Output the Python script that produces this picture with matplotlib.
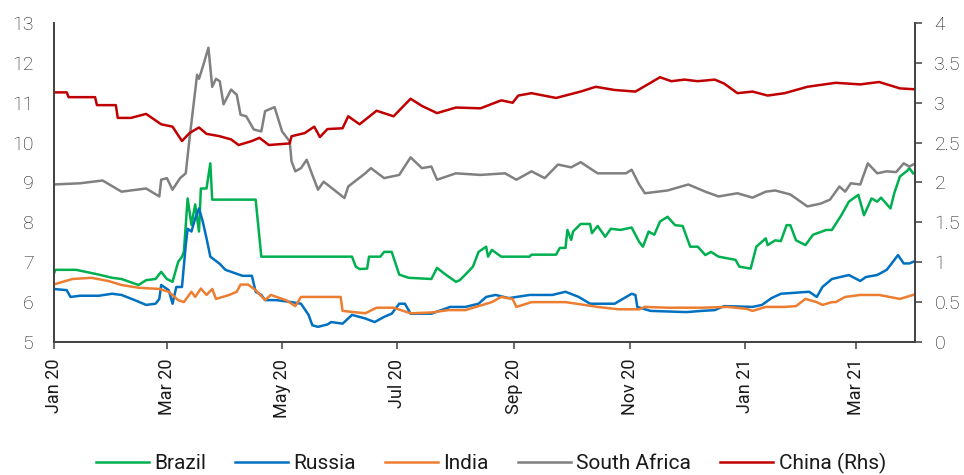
import matplotlib
matplotlib.use('Agg')
import matplotlib.pyplot as plt
import matplotlib.dates as mdates
import pandas as pd

# --- data ---
brazil_dates = [
    '2020-01-01', '2020-01-02', '2020-01-13', '2020-01-18', '2020-01-25', '2020-02-01', '2020-02-06',
    '2020-02-15', '2020-02-19', '2020-02-24', '2020-02-27', '2020-03-01', '2020-03-04', '2020-03-07',
    '2020-03-09', '2020-03-10', '2020-03-12', '2020-03-14', '2020-03-16', '2020-03-18', '2020-03-19',
    '2020-03-22', '2020-03-24', '2020-03-25', '2020-04-17', '2020-04-20', '2020-06-07', '2020-06-09',
    '2020-06-11', '2020-06-15', '2020-06-16', '2020-06-22', '2020-06-24', '2020-06-28', '2020-07-02',
    '2020-07-07', '2020-07-19', '2020-07-22', '2020-07-26', '2020-08-01', '2020-08-03', '2020-08-06',
    '2020-08-10', '2020-08-13', '2020-08-17', '2020-08-18', '2020-08-20', '2020-08-25', '2020-09-09',
    '2020-09-10', '2020-09-23', '2020-09-25', '2020-09-28', '2020-09-29', '2020-10-01', '2020-10-02',
    '2020-10-06', '2020-10-11', '2020-10-12', '2020-10-15', '2020-10-19', '2020-10-22', '2020-10-27',
    '2020-11-02', '2020-11-06', '2020-11-08', '2020-11-11', '2020-11-14', '2020-11-17', '2020-11-21',
    '2020-11-25', '2020-11-29', '2020-12-03', '2020-12-07', '2020-12-11', '2020-12-14', '2020-12-18',
    '2020-12-27', '2020-12-29', '2021-01-04', '2021-01-07', '2021-01-12', '2021-01-13', '2021-01-17',
    '2021-01-20', '2021-01-23', '2021-01-25', '2021-01-28', '2021-02-02', '2021-02-06', '2021-02-13',
    '2021-02-16', '2021-02-21', '2021-02-25', '2021-03-02', '2021-03-05', '2021-03-09', '2021-03-12',
    '2021-03-14', '2021-03-19', '2021-03-21', '2021-03-24', '2021-03-28', '2021-03-29', '2021-03-31']
brazil = [
    6.69, 6.81, 6.81, 6.76, 6.69, 6.61, 6.58, 6.43, 6.55, 6.58, 6.76, 6.58, 6.51, 7.01,
    7.14, 7.26, 8.60, 7.94, 8.45, 7.77, 8.85, 8.85, 9.48, 8.57, 8.57, 7.14, 7.14, 6.89,
    6.83, 6.84, 7.14, 7.14, 7.26, 7.26, 6.69, 6.61, 6.58, 6.86, 6.71, 6.51, 6.55, 6.69,
    6.89, 7.26, 7.39, 7.14, 7.31, 7.14, 7.14, 7.19, 7.19, 7.36, 7.36, 7.81, 7.56, 7.77,
    7.96, 7.96, 7.73, 7.91, 7.64, 7.84, 7.81, 7.87, 7.51, 7.39, 7.77, 7.69, 8.02, 8.14,
    7.93, 7.91, 7.39, 7.39, 7.18, 7.26, 7.14, 7.06, 6.89, 6.84, 7.39, 7.60, 7.43, 7.55,
    7.53, 7.93, 7.93, 7.55, 7.43, 7.69, 7.81, 7.81, 8.18, 8.52, 8.69, 8.18, 8.60, 8.52,
    8.62, 8.35, 8.73, 9.15, 9.30, 9.36, 9.23]

russia_dates = [
    '2020-01-01', '2020-01-08', '2020-01-10', '2020-01-15', '2020-01-25', '2020-02-01', '2020-02-06',
    '2020-02-13', '2020-02-19', '2020-02-24', '2020-02-26', '2020-02-27', '2020-03-02', '2020-03-04',
    '2020-03-06', '2020-03-09', '2020-03-11', '2020-03-12', '2020-03-14', '2020-03-16', '2020-03-18',
    '2020-03-20', '2020-03-22', '2020-03-24', '2020-03-29', '2020-04-01', '2020-04-04', '2020-04-10',
    '2020-04-15', '2020-04-16', '2020-04-17', '2020-04-20', '2020-04-22', '2020-04-28', '2020-05-06',
    '2020-05-11', '2020-05-15', '2020-05-17', '2020-05-20', '2020-05-25', '2020-05-27', '2020-06-02',
    '2020-06-07', '2020-06-14', '2020-06-19', '2020-06-24', '2020-06-28', '2020-07-02', '2020-07-05',
    '2020-07-08', '2020-07-19', '2020-07-29', '2020-08-06', '2020-08-13', '2020-08-17', '2020-08-22',
    '2020-08-29', '2020-09-09', '2020-09-21', '2020-09-28', '2020-10-05', '2020-10-11', '2020-10-24',
    '2020-11-02', '2020-11-04', '2020-11-05', '2020-11-12', '2020-12-01', '2020-12-09', '2020-12-16',
    '2020-12-21', '2021-01-05', '2021-01-10', '2021-01-15', '2021-01-20', '2021-02-04', '2021-02-08',
    '2021-02-11', '2021-02-16', '2021-02-25', '2021-03-03', '2021-03-06', '2021-03-12', '2021-03-17',
    '2021-03-19', '2021-03-23', '2021-03-26', '2021-03-29', '2021-03-31']
russia = [
    6.33, 6.30, 6.13, 6.16, 6.16, 6.21, 6.18, 6.05, 5.93, 5.96, 6.08, 6.43, 6.30, 5.96,
    6.38, 6.38, 7.43, 7.84, 7.77, 8.10, 8.35, 8.02, 7.60, 7.14, 6.96, 6.81, 6.76, 6.66,
    6.66, 6.46, 6.26, 6.18, 6.05, 6.05, 6.00, 5.96, 5.68, 5.42, 5.38, 5.44, 5.50, 5.46,
    5.68, 5.59, 5.50, 5.63, 5.71, 5.96, 5.96, 5.71, 5.71, 5.88, 5.88, 5.96, 6.13, 6.18,
    6.10, 6.18, 6.18, 6.26, 6.13, 5.96, 5.96, 6.21, 6.18, 5.88, 5.78, 5.75, 5.78, 5.80,
    5.90, 5.88, 5.93, 6.10, 6.21, 6.26, 6.13, 6.38, 6.58, 6.68, 6.53, 6.63, 6.68, 6.81,
    6.93, 7.18, 6.97, 6.97, 7.01]

india_dates = [
    '2020-01-01', '2020-01-11', '2020-01-21', '2020-01-30', '2020-02-06', '2020-02-15', '2020-02-26',
    '2020-03-02', '2020-03-07', '2020-03-10', '2020-03-14', '2020-03-16', '2020-03-19', '2020-03-22',
    '2020-03-25', '2020-03-27', '2020-04-03', '2020-04-07', '2020-04-09', '2020-04-13', '2020-04-17',
    '2020-04-22', '2020-04-25', '2020-05-03', '2020-05-08', '2020-05-11', '2020-06-01', '2020-06-02',
    '2020-06-10', '2020-06-14', '2020-06-20', '2020-06-29', '2020-07-08', '2020-07-19', '2020-07-28',
    '2020-08-06', '2020-08-13', '2020-08-20', '2020-08-25', '2020-08-31', '2020-09-02', '2020-09-10',
    '2020-09-28', '2020-10-08', '2020-10-15', '2020-10-26', '2020-11-06', '2020-11-09', '2020-11-21',
    '2020-12-09', '2020-12-23', '2021-01-02', '2021-01-05', '2021-01-12', '2021-01-22', '2021-01-28',
    '2021-02-02', '2021-02-08', '2021-02-11', '2021-02-16', '2021-02-18', '2021-02-23', '2021-03-03',
    '2021-03-13', '2021-03-24', '2021-03-31']
india = [
    6.44, 6.58, 6.61, 6.53, 6.43, 6.36, 6.33, 6.26, 6.05, 6.00, 6.26, 6.13, 6.34, 6.18,
    6.33, 6.08, 6.18, 6.26, 6.44, 6.44, 6.30, 6.05, 6.18, 6.05, 5.90, 6.13, 6.13, 5.78,
    5.74, 5.72, 5.86, 5.86, 5.72, 5.74, 5.80, 5.80, 5.90, 6.00, 6.13, 6.08, 5.88, 6.00,
    6.00, 5.93, 5.88, 5.82, 5.82, 5.88, 5.86, 5.86, 5.88, 5.83, 5.78, 5.88, 5.88, 5.90,
    6.08, 6.00, 5.93, 6.00, 6.00, 6.13, 6.18, 6.18, 6.08, 6.18]

safrica_dates = [
    '2020-01-01', '2020-01-15', '2020-01-27', '2020-02-06', '2020-02-19', '2020-02-26', '2020-02-27',
    '2020-03-01', '2020-03-04', '2020-03-08', '2020-03-11', '2020-03-13', '2020-03-15', '2020-03-17',
    '2020-03-18', '2020-03-20', '2020-03-23', '2020-03-25', '2020-03-27', '2020-03-29', '2020-03-31',
    '2020-04-04', '2020-04-07', '2020-04-09', '2020-04-12', '2020-04-16', '2020-04-20', '2020-04-22',
    '2020-04-27', '2020-05-01', '2020-05-05', '2020-05-06', '2020-05-08', '2020-05-11', '2020-05-14',
    '2020-05-17', '2020-05-20', '2020-05-23', '2020-06-03', '2020-06-05', '2020-06-14', '2020-06-17',
    '2020-06-24', '2020-07-02', '2020-07-08', '2020-07-14', '2020-07-19', '2020-07-22', '2020-08-01',
    '2020-08-14', '2020-08-27', '2020-09-02', '2020-09-10', '2020-09-17', '2020-09-24', '2020-10-01',
    '2020-10-06', '2020-10-15', '2020-10-30', '2020-11-02', '2020-11-06', '2020-11-09', '2020-11-21',
    '2020-12-02', '2020-12-11', '2020-12-18', '2020-12-28', '2021-01-05', '2021-01-12', '2021-01-17',
    '2021-01-25', '2021-02-03', '2021-02-10', '2021-02-15', '2021-02-20', '2021-02-23', '2021-02-26',
    '2021-03-03', '2021-03-07', '2021-03-12', '2021-03-17', '2021-03-22', '2021-03-26', '2021-03-29',
    '2021-03-31']
safrica = [
    8.95, 8.98, 9.05, 8.77, 8.85, 8.65, 9.07, 9.11, 8.82, 9.11, 9.23, 10.10, 10.90, 11.70,
    11.60, 11.90, 12.38, 11.40, 11.60, 11.54, 10.96, 11.33, 11.20, 10.70, 10.66, 10.33, 10.28, 10.79,
    10.89, 10.28, 10.03, 9.53, 9.28, 9.36, 9.57, 9.19, 8.82, 9.02, 8.61, 8.90, 9.23, 9.36,
    9.11, 9.19, 9.63, 9.36, 9.40, 9.07, 9.23, 9.19, 9.23, 9.07, 9.28, 9.11, 9.45, 9.38,
    9.51, 9.23, 9.23, 9.32, 8.95, 8.73, 8.80, 8.95, 8.77, 8.65, 8.73, 8.62, 8.77, 8.80,
    8.70, 8.40, 8.47, 8.57, 8.90, 8.77, 8.98, 8.95, 9.48, 9.23, 9.28, 9.26, 9.48, 9.40,
    9.45]

china_dates = [
    '2020-01-01', '2020-01-08', '2020-01-09', '2020-01-23', '2020-01-24', '2020-02-03', '2020-02-04',
    '2020-02-11', '2020-02-19', '2020-02-27', '2020-03-04', '2020-03-09', '2020-03-13', '2020-03-18',
    '2020-03-22', '2020-03-29', '2020-04-04', '2020-04-08', '2020-04-15', '2020-04-19', '2020-04-24',
    '2020-05-05', '2020-05-06', '2020-05-13', '2020-05-18', '2020-05-21', '2020-05-25', '2020-06-02',
    '2020-06-05', '2020-06-11', '2020-06-20', '2020-06-29', '2020-07-08', '2020-07-14', '2020-07-22',
    '2020-08-01', '2020-08-14', '2020-08-25', '2020-08-31', '2020-09-03', '2020-09-10', '2020-09-23',
    '2020-10-06', '2020-10-14', '2020-10-24', '2020-11-04', '2020-11-12', '2020-11-17', '2020-11-23',
    '2020-11-30', '2020-12-07', '2020-12-16', '2020-12-21', '2020-12-28', '2021-01-05', '2021-01-13',
    '2021-01-22', '2021-02-03', '2021-02-18', '2021-03-03', '2021-03-13', '2021-03-24', '2021-03-31']
china = [
    3.13, 3.13, 3.07, 3.07, 2.97, 2.97, 2.81, 2.81, 2.86, 2.73, 2.70, 2.52, 2.62, 2.69,
    2.61, 2.58, 2.54, 2.47, 2.52, 2.56, 2.47, 2.49, 2.58, 2.62, 2.70, 2.57, 2.67, 2.68,
    2.83, 2.73, 2.90, 2.83, 3.05, 2.96, 2.87, 2.94, 2.93, 3.03, 3.00, 3.09, 3.12, 3.06,
    3.14, 3.20, 3.16, 3.14, 3.25, 3.32, 3.27, 3.29, 3.27, 3.29, 3.24, 3.12, 3.14, 3.09,
    3.12, 3.20, 3.25, 3.23, 3.26, 3.18, 3.17]

tick_months = ['2020-01-01', '2020-03-01', '2020-05-01', '2020-07-01', '2020-09-01',
               '2020-11-01', '2021-01-01', '2021-03-01']

colors = {'Brazil': '#00B050', 'Russia': '#0070C0', 'India': '#ED7D31',
          'South Africa': '#808080', 'China (Rhs)': '#C00000'}

plt.rcParams['font.family'] = ['Roboto', 'DejaVu Sans']
ink = '#1a1a1a'
spine_col = '#404040'

fig = plt.figure(figsize=(9.64, 4.75), dpi=100)
ax = fig.add_axes([0.0555, 0.28, 0.8937, 0.6716])
ax2 = ax.twinx()

lw = 1.8
series = [('Brazil', brazil_dates, brazil), ('Russia', russia_dates, russia),
          ('India', india_dates, india), ('South Africa', safrica_dates, safrica)]
handles = []
for name, d, v in series:
    h, = ax.plot(pd.to_datetime(d), v, color=colors[name], lw=lw, label=name)
    handles.append(h)
h, = ax2.plot(pd.to_datetime(china_dates), china, color=colors['China (Rhs)'], lw=lw,
              label='China (Rhs)')
handles.append(h)

ax.set_xlim(pd.Timestamp('2020-01-01'), pd.Timestamp('2021-04-01'))
ax.set_ylim(5, 13)
ax2.set_ylim(0, 4)
ax.set_yticks(range(5, 14))
ax2.set_yticks([0, 0.5, 1, 1.5, 2, 2.5, 3, 3.5, 4])
ax2.set_yticklabels(['0', '0.5', '1', '1.5', '2', '2.5', '3', '3.5', '4'])

ax.set_xticks(pd.to_datetime(tick_months))
ax.xaxis.set_major_formatter(mdates.DateFormatter('%b %y'))

for a in (ax, ax2):
    a.spines['top'].set_visible(False)
    for s in ('left', 'right', 'bottom'):
        a.spines[s].set_color(spine_col)
        a.spines[s].set_linewidth(1.2)
ax.tick_params(axis='x', direction='out', length=5, width=1.1, color=spine_col,
               labelsize=13, labelcolor=ink, pad=7, labelrotation=90)
ax.tick_params(axis='y', length=0, labelsize=14, labelcolor=ink, pad=14.5)
ax2.tick_params(axis='y', direction='out', length=5, width=1.1, color=spine_col,
                labelsize=14, labelcolor=ink, pad=9)
for lab in ax.get_yticklabels() + ax2.get_yticklabels():
    lab.set_fontweight('light')

leg = fig.legend(handles=handles, loc='center', bbox_to_anchor=(0.509, 0.025), ncol=5,
                 frameon=False, handlelength=2.55, handletextpad=0.25, columnspacing=1.4,
                 prop={'family': ['Roboto', 'DejaVu Sans'], 'size': 15})
for t in leg.get_texts():
    t.set_color(ink)

fig.savefig('out.png', dpi=100)
